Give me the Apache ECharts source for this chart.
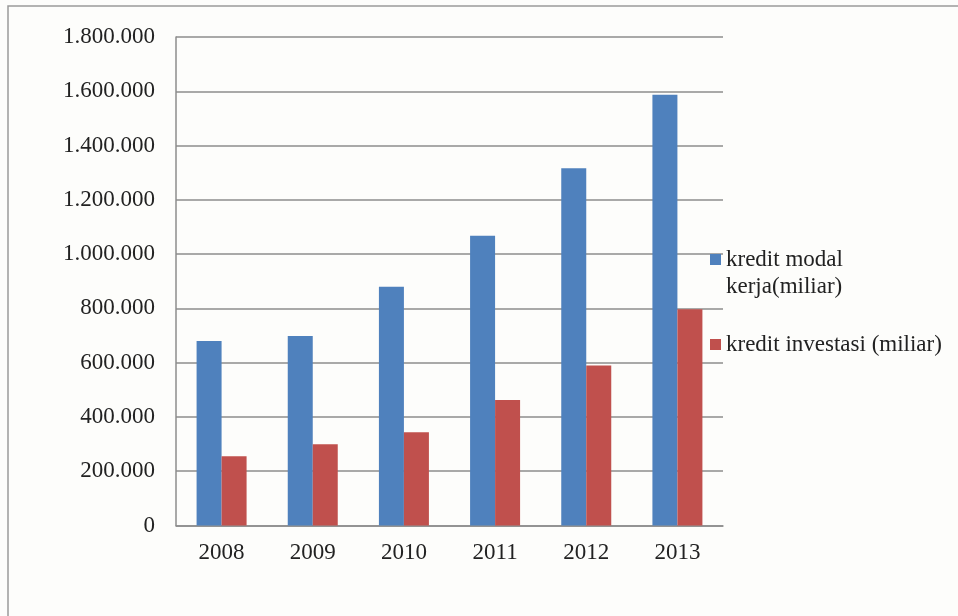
<!DOCTYPE html>
<html>
<head>
<meta charset="utf-8">
<script src="https://cdn.jsdelivr.net/npm/echarts@6/dist/echarts.min.js"></script>
<style>
html,body{margin:0;padding:0;background:#fdfdfb;}
#chart{width:958px;height:616px;}
</style>
</head>
<body>
<div id="chart"></div>
<script>
const categories = ['2008','2009','2010','2011','2012','2013'];
const modalKerja = [680000, 698000, 880000, 1068000, 1316000, 1587000];
const investasi = [255000, 299000, 344000, 462000, 590000, 797000];
const yTickLabels = ['0','200.000','400.000','600.000','800.000','1.000.000','1.200.000','1.400.000','1.600.000','1.800.000'];
const seriesNames = ['kredit modal kerja(miliar)', 'kredit investasi (miliar)'];

const font = '"Liberation Serif", "Times New Roman", serif';
const chart = echarts.init(document.getElementById('chart'));
chart.setOption({
  backgroundColor: '#fdfdfb',
  animation: false,
  graphic: [{
    type: 'rect', silent: true, z: -1,
    shape: {x: 8, y: 6, width: 1000, height: 700},
    style: {fill: 'none', stroke: '#9a9a9a', lineWidth: 1.5}
  }],
  grid: {left: 176, top: 37, right: 235, bottom: 90.5, containLabel: false},
  legend: [{
    data: [seriesNames[0]], left: 705, top: 214, orient: 'vertical',
    icon: 'rect', itemWidth: 11, itemHeight: 11, itemGap: 0,
    formatter: n => '\n' + n.replace(' kerja', '\nkerja'),
    textStyle: {fontFamily: font, fontSize: 23, color: '#222', lineHeight: 27}
  }, {
    data: [seriesNames[1]], left: 705, top: 328, orient: 'vertical',
    icon: 'rect', itemWidth: 11, itemHeight: 11,
    textStyle: {fontFamily: font, fontSize: 23, color: '#222'}
  }],
  xAxis: {
    type: 'category', data: categories,
    axisLine: {lineStyle: {color: '#8c8c8c', width: 1.5}},
    axisTick: {show: false},
    axisLabel: {fontFamily: font, fontSize: 23, color: '#222', margin: 16}
  },
  yAxis: {
    type: 'value', min: 0, max: 1800000, interval: 200000,
    axisLine: {show: true, lineStyle: {color: '#8c8c8c', width: 1.5}},
    axisTick: {show: false},
    splitLine: {lineStyle: {color: '#8c8c8c', width: 1.5}},
    axisLabel: {
      fontFamily: font, fontSize: 23, color: '#222', margin: 21,
      formatter: v => yTickLabels[Math.round(v / 200000)]
    }
  },
  series: [{
    name: seriesNames[0], type: 'bar', data: modalKerja, barWidth: 25, barGap: '0%',
    itemStyle: {color: '#4f81bd'}
  }, {
    name: seriesNames[1], type: 'bar', data: investasi, barWidth: 25, barGap: '0%',
    itemStyle: {color: '#c0504d'}
  }]
});
</script>
</body>
</html>
